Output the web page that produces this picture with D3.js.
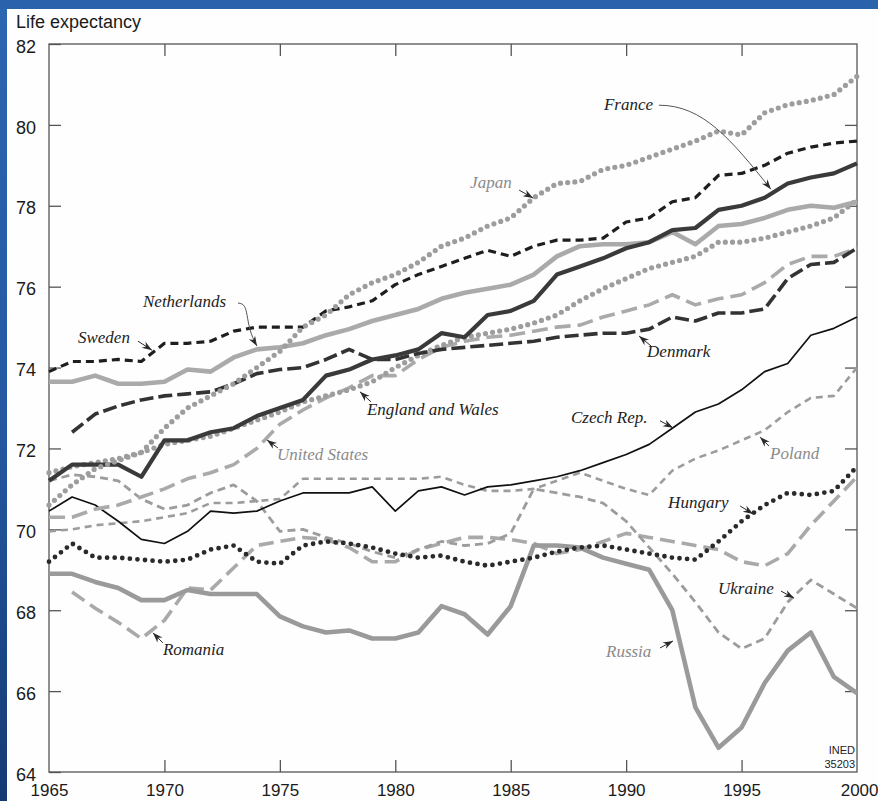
<!DOCTYPE html>
<html>
<head>
<meta charset="utf-8">
<script src="https://cdn.jsdelivr.net/npm/d3@7"></script>
<style>
  html, body { margin: 0; padding: 0; background: #2a62ac; overflow: hidden; }
  svg { display: block; }
</style>
</head>
<body>
<svg id="chart" width="878" height="801"></svg>
<script>
// Life expectancy at birth, both sexes, 1965-2000
const years = [1965,1966,1967,1968,1969,1970,1971,1972,1973,1974,
               1975,1976,1977,1978,1979,1980,1981,1982,1983,1984,
               1985,1986,1987,1988,1989,1990,1991,1992,1993,1994,
               1995,1996,1997,1998,1999,2000];

const japan = [70.6,71.1,71.5,71.7,71.9,72.5,73.0,73.3,73.6,74.0,
               74.4,75.0,75.3,75.8,76.1,76.3,76.6,77.0,77.2,77.5,
               77.7,78.2,78.55,78.6,78.9,79.0,79.2,79.4,79.6,79.85,
               79.75,80.3,80.5,80.6,80.75,81.2];
const france = [71.2,71.6,71.6,71.6,71.3,72.2,72.2,72.4,72.5,72.8,
                73.0,73.2,73.8,73.95,74.2,74.3,74.45,74.85,74.75,75.3,
                75.4,75.65,76.3,76.5,76.7,76.95,77.1,77.4,77.45,77.9,
                78.0,78.2,78.55,78.7,78.8,79.05];
const sweden = [73.9,74.15,74.15,74.2,74.15,74.6,74.6,74.65,74.9,75.0,
                75.0,75.0,75.4,75.5,75.65,76.05,76.3,76.5,76.7,76.9,
                76.75,77.0,77.15,77.15,77.2,77.6,77.7,78.1,78.2,78.75,
                78.8,79.0,79.3,79.45,79.55,79.6];
const netherlands = [73.65,73.65,73.8,73.6,73.6,73.65,73.95,73.9,74.25,74.45,
                     74.5,74.6,74.8,74.95,75.15,75.3,75.45,75.7,75.85,75.95,
                     76.05,76.3,76.75,77.0,77.05,77.05,77.1,77.35,77.05,77.5,
                     77.55,77.7,77.9,78.0,77.95,78.1];
const denmark = [null,72.4,72.85,73.05,73.2,73.3,73.35,73.4,73.6,73.85,
                 73.95,74.0,74.2,74.45,74.2,74.2,74.35,74.45,74.5,74.55,
                 74.6,74.65,74.75,74.8,74.85,74.85,74.95,75.25,75.15,75.35,
                 75.35,75.45,76.2,76.55,76.6,76.95];
const englandWales = [71.4,71.55,71.65,71.75,71.9,72.1,72.2,72.3,72.5,72.7,
                      72.9,73.15,73.3,73.45,73.65,74.0,74.3,74.55,74.75,74.85,
                      74.95,75.1,75.3,75.65,75.95,76.2,76.45,76.6,76.75,77.1,
                      77.1,77.2,77.35,77.5,77.7,78.15];
const unitedStates = [70.3,70.3,70.5,70.6,70.8,71.0,71.25,71.4,71.6,72.0,
                      72.6,72.95,73.25,73.5,73.8,73.8,74.2,74.5,74.65,74.75,
                      74.8,74.9,75.0,75.05,75.25,75.4,75.55,75.8,75.55,75.7,
                      75.8,76.1,76.55,76.75,76.75,76.95];
const czechRep = [70.45,70.8,70.6,70.2,69.75,69.65,69.95,70.45,70.4,70.45,
                  70.7,70.9,70.9,70.9,71.05,70.45,70.95,71.05,70.85,71.05,
                  71.1,71.2,71.3,71.45,71.65,71.85,72.1,72.5,72.9,73.1,
                  73.45,73.9,74.1,74.8,74.97,75.25];
const poland = [69.95,70.0,70.1,70.15,70.2,70.3,70.4,70.65,70.65,70.7,
                70.75,71.25,71.25,71.25,71.25,71.25,71.25,71.3,71.1,70.95,
                70.95,71.0,71.2,71.4,71.2,71.0,70.85,71.45,71.75,71.95,
                72.2,72.45,72.9,73.25,73.3,74.0];
const hungary = [69.2,69.65,69.3,69.3,69.25,69.2,69.25,69.5,69.6,69.2,
                 69.15,69.6,69.7,69.65,69.55,69.4,69.3,69.35,69.2,69.1,
                 69.2,69.3,69.45,69.55,69.6,69.5,69.4,69.3,69.25,69.7,
                 70.2,70.6,70.9,70.85,70.95,71.55];
const ukraine = [71.2,71.35,71.3,71.2,70.75,70.5,70.6,70.9,71.1,70.7,
                 69.95,70.0,69.8,69.65,69.45,69.3,69.5,69.7,69.6,69.65,
                 69.9,71.0,70.9,70.8,70.65,70.2,69.55,68.9,68.2,67.45,
                 67.05,67.3,68.2,68.75,68.4,68.05];
const romania = [null,68.45,68.05,67.7,67.3,67.75,68.55,68.5,69.05,69.6,
                 69.7,69.8,69.75,69.55,69.2,69.2,69.5,69.65,69.8,69.8,
                 69.75,69.65,69.4,69.5,69.7,69.9,69.8,69.7,69.6,69.5,
                 69.2,69.1,69.4,70.1,70.7,71.3];
const russia = [68.9,68.9,68.7,68.55,68.25,68.25,68.5,68.4,68.4,68.4,
                67.85,67.6,67.45,67.5,67.3,67.3,67.45,68.1,67.9,67.4,
                68.1,69.6,69.6,69.55,69.3,69.15,69.0,68.0,65.6,64.6,
                65.1,66.2,67.0,67.45,66.35,65.95];

const yTicks = [64,66,68,70,72,74,76,78,80,82];
const xTicks = [1965,1970,1975,1980,1985,1990,1995,2000];

// Stroke styles, one per series (drawn back to front)
const series = [
  { name: "Romania",           values: romania,      color: "#a9a9a9", width: 3.6, dash: "15,7" },
  { name: "Ukraine",           values: ukraine,      color: "#9c9c9c", width: 2.8, dash: "8,5" },
  { name: "Poland",            values: poland,       color: "#9c9c9c", width: 2.6, dash: "7,5" },
  { name: "Russia",            values: russia,       color: "#9a9a9a", width: 4.6, dash: null },
  { name: "Hungary",           values: hungary,      color: "#2a2a2a", width: 4.8, dash: "0,7.6", cap: "round" },
  { name: "Czech Rep.",        values: czechRep,     color: "#111111", width: 1.7, dash: null },
  { name: "United States",     values: unitedStates, color: "#aaaaaa", width: 3.6, dash: "16,7" },
  { name: "England and Wales", values: englandWales, color: "#9d9d9d", width: 5.2, dash: "0,7.2", cap: "round" },
  { name: "Denmark",           values: denmark,      color: "#333333", width: 3.6, dash: "14,5" },
  { name: "Netherlands",       values: netherlands,  color: "#aaaaaa", width: 4.6, dash: null },
  { name: "Sweden",            values: sweden,       color: "#1e1e1e", width: 3.2, dash: "8,5" },
  { name: "France",            values: france,       color: "#3a3a3a", width: 4.2, dash: null },
  { name: "Japan",             values: japan,        color: "#9d9d9d", width: 5.2, dash: "0,7.2", cap: "round" }
];

// Country labels: arrow tip sits on the curve (data units), text and arrow tail are pixel offsets from it
const notes = [
  { text: "Sweden",            year: 1969.46, value: 74.43, dx: -74,  dy: -7,  tail: [-14, -9], color: "#222" },
  { text: "Japan",             year: 1985.97, value: 78.19, dx: -63,  dy: -10, tail: [-14, -8], color: "#8a8a8a" },
  { text: "Denmark",           year: 1990.56, value: 74.78, dx: 8,    dy: 21,  tail: [12, 10],  color: "#222" },
  { text: "England and Wales", year: 1978.47, value: 73.40, dx: 7,    dy: 23,  tail: [11, 10],  color: "#222" },
  { text: "United States",     year: 1974.44, value: 72.21, dx: 10,   dy: 20,  tail: [11, 8],   color: "#8a8a8a" },
  { text: "Czech Rep.",        year: 1992.03, value: 72.51, dx: -102, dy: -5,  tail: [-13, -7], color: "#222" },
  { text: "Poland",            year: 1995.80, value: 72.28, dx: 10,   dy: 22,  tail: [9, 9],    color: "#8a8a8a" },
  { text: "Hungary",           year: 1995.50, value: 70.38, dx: -85,  dy: -6,  tail: [-13, -8], color: "#222" },
  { text: "Ukraine",           year: 1997.27, value: 68.30, dx: -76,  dy: -4,  tail: [-13, -7], color: "#222" },
  { text: "Romania",           year: 1969.50, value: 67.44, dx: 10,   dy: 22,  tail: [10, 10],  color: "#222" },
  { text: "Russia",            year: 1992.03, value: 67.24, dx: -67,  dy: 16,  tail: [-13, 7],  color: "#8a8a8a" }
];
// Labels joined to their curve by a long curved leader (offsets: start, control 1, control 2)
const curvedNotes = [
  { text: "France",      year: 1996.27, value: 78.41, dx: -167, dy: -79,
    leader: [[-112, -84], [-68, -84], [-40, -50]], color: "#222" },
  { text: "Netherlands", year: 1974.01, value: 74.53, dx: -114, dy: -39,
    leader: [[-19, -43], [-6, -43], [-14, -24]], color: "#222" }
];

const W = 878, H = 801;
const svg = d3.select("#chart");

// Blue slide background with darker lower-left edge
const defs = svg.append("defs");
const grad = defs.append("linearGradient").attr("id", "edge")
  .attr("x1", 0).attr("y1", 0).attr("x2", 0).attr("y2", 1);
grad.append("stop").attr("offset", "0%").attr("stop-color", "#2c65b0");
grad.append("stop").attr("offset", "55%").attr("stop-color", "#2457a0");
grad.append("stop").attr("offset", "100%").attr("stop-color", "#143a72");
svg.append("rect").attr("width", W).attr("height", H).attr("fill", "#2a62ac");
svg.append("rect").attr("x", 0).attr("y", 9).attr("width", 8).attr("height", H - 9).attr("fill", "url(#edge)");
svg.append("rect").attr("x", 7).attr("y", 9).attr("width", W - 7).attr("height", H - 9).attr("fill", "#fefefe");

const x = d3.scaleLinear().domain([1965, 2000]).range([49, 857]);
const y = d3.scaleLinear().domain([64, 82]).range([772, 44]);

const axisFont = "'Liberation Sans', Arial, sans-serif";
const labelFont = "'Liberation Serif', 'Times New Roman', serif";

// Frame with inward ticks on all four sides
function styleAxis(g) {
  g.select(".domain").remove();
  g.selectAll(".tick line").attr("stroke", "#555").attr("stroke-width", 1.3);
  g.selectAll(".tick text").attr("fill", "#1a1a1a").style("font-family", axisFont).style("font-size", "18px");
}
svg.append("g").attr("transform", `translate(${x(1965)},0)`)
  .call(d3.axisLeft(y).tickValues(yTicks).tickSize(-12).tickPadding(13).tickFormat(d3.format("d")))
  .call(styleAxis)
  .call(g => g.selectAll(".tick text").attr("dy", "0.62em").attr("y", -3));
svg.append("g").attr("transform", `translate(${x(2000)},0)`)
  .call(d3.axisRight(y).tickValues(yTicks.slice(1, -1)).tickSize(-12).tickFormat(""))
  .call(styleAxis);
svg.append("g").attr("transform", `translate(0,${y(64)})`)
  .call(d3.axisBottom(x).tickValues(xTicks).tickSize(-12).tickPadding(12).tickFormat(d3.format("d")))
  .call(styleAxis)
  .call(g => g.selectAll(".tick text").style("font-size", "17px").attr("dy", "0.7em"))
  .call(g => g.selectAll(".tick line").filter(d => d === 1965 || d === 2000).remove())
  .call(g => g.selectAll(".tick text").filter(d => d === 2000).attr("text-anchor", "end").attr("x", 21));
svg.append("g").attr("transform", `translate(0,${y(82)})`)
  .call(d3.axisTop(x).tickValues(xTicks.slice(1, -1)).tickSize(-12).tickFormat(""))
  .call(styleAxis);
svg.append("rect")
  .attr("x", x(1965)).attr("y", y(82))
  .attr("width", x(2000) - x(1965)).attr("height", y(64) - y(82))
  .attr("fill", "none").attr("stroke", "#555").attr("stroke-width", 1.3);

svg.append("text").attr("x", 16).attr("y", 28)
  .style("font-family", axisFont).style("font-size", "18px").attr("fill", "#1a1a1a")
  .text("Life expectancy");

// Series curves
const line = d3.line()
  .defined(d => d != null)
  .x((d, i) => x(years[i]))
  .y(d => y(d));

const plot = svg.append("g");
series.forEach(s => {
  plot.append("path")
    .attr("d", line(s.values))
    .attr("fill", "none")
    .attr("stroke", s.color)
    .attr("stroke-width", s.width)
    .attr("stroke-linejoin", "round")
    .attr("stroke-linecap", s.cap || "butt")
    .attr("stroke-dasharray", s.dash);
});

// Arrowhead: notched triangle pointing from (x1,y1) to (x2,y2)
function arrowHead(g, x1, y1, x2, y2) {
  const ang = Math.atan2(y2 - y1, x2 - x1) * 180 / Math.PI;
  g.append("path")
    .attr("d", "M0,0 L-10,-3.6 L-7,0 L-10,3.6 Z")
    .attr("fill", "#2a2a2a")
    .attr("transform", `translate(${x2},${y2}) rotate(${ang})`);
}

const ann = svg.append("g");
notes.forEach(n => {
  const tx = x(n.year), ty = y(n.value);
  const ax = tx + n.tail[0], ay = ty + n.tail[1];
  ann.append("line").attr("x1", ax).attr("y1", ay).attr("x2", tx).attr("y2", ty)
    .attr("stroke", "#2a2a2a").attr("stroke-width", 1);
  arrowHead(ann, ax, ay, tx, ty);
  ann.append("text").attr("x", tx + n.dx).attr("y", ty + n.dy)
    .style("font-family", labelFont).style("font-style", "italic").style("font-size", "17px")
    .attr("fill", n.color).text(n.text);
});
curvedNotes.forEach(n => {
  const tx = x(n.year), ty = y(n.value);
  const [p0, c1, c2] = n.leader;
  ann.append("path")
    .attr("d", `M${tx + p0[0]},${ty + p0[1]} C${tx + c1[0]},${ty + c1[1]} ${tx + c2[0]},${ty + c2[1]} ${tx},${ty}`)
    .attr("fill", "none").attr("stroke", "#555").attr("stroke-width", 1);
  arrowHead(ann, tx + c2[0], ty + c2[1], tx, ty);
  ann.append("text").attr("x", tx + n.dx).attr("y", ty + n.dy)
    .style("font-family", labelFont).style("font-style", "italic").style("font-size", "17px")
    .attr("fill", n.color).text(n.text);
});

// Source stamp
const stamp = svg.append("g")
  .style("font-family", "'Liberation Sans Narrow', 'Liberation Sans', Arial, sans-serif")
  .style("font-size", "11px").attr("fill", "#222").attr("text-anchor", "end");
stamp.append("text").attr("x", x(2000) - 2).attr("y", y(64) - 18).text("INED");
stamp.append("text").attr("x", x(2000) - 2).attr("y", y(64) - 4).text("35203");
</script>
</body>
</html>
